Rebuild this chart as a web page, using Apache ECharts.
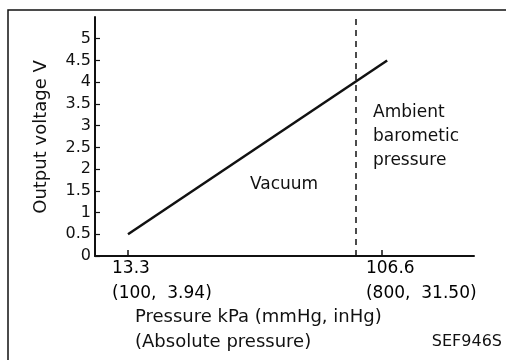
<!DOCTYPE html>
<html>
<head>
<meta charset="utf-8">
<script src="https://cdn.jsdelivr.net/npm/echarts@6/dist/echarts.min.js"></script>
<style>
  html, body { margin: 0; padding: 0; background: #fff; }
  #chart { width: 506px; height: 360px; }
</style>
</head>
<body>
<div id="chart"></div>
<script>
// Sensor characteristic: output voltage vs absolute pressure
const pressureKPa = [13.3, 108.5];
const outputVoltage = [0.5, 4.5];
const ambientPressureKPa = 97;

// Axis ticks
const xTickValues = [13.3, 106.6];
const xTickLabels = ['13.3', '106.6'];
const xTickSubLabels = ['(100,  3.94)', '(800,  31.50)'];
const yTickValues = [0, 0.5, 1, 1.5, 2, 2.5, 3, 3.5, 4, 4.5, 5];

const FONT = 'DejaVu Sans';
const INK = '#111';

const chart = echarts.init(document.getElementById('chart'), null, { renderer: 'canvas' });

const curve = pressureKPa.map((p, i) => [p, outputVoltage[i]]);
const tickLabelPoints = xTickValues.map(v => [v, 0]);

chart.setOption({
  animation: false,
  backgroundColor: '#fff',
  textStyle: { fontFamily: FONT, color: INK },
  grid: { left: 95, right: 32, top: 17, bottom: 104, containLabel: false },
  xAxis: {
    type: 'value',
    min: 1.18,
    max: 140.4,
    axisLine: { show: true, onZero: false, lineStyle: { color: INK, width: 2 } },
    axisTick: { show: true, inside: true, length: 6, customValues: xTickValues, lineStyle: { color: INK, width: 1.5 } },
    axisLabel: { show: false },
    splitLine: { show: false }
  },
  yAxis: {
    type: 'value',
    min: 0,
    max: 5.5,
    interval: 0.5,
    axisLine: { show: true, lineStyle: { color: INK, width: 2 } },
    axisTick: { show: true, inside: true, length: 5, customValues: yTickValues, lineStyle: { color: INK, width: 1.2 } },
    axisLabel: { show: true, customValues: yTickValues, fontSize: 16, margin: 4, color: INK, fontFamily: FONT },
    splitLine: { show: false }
  },
  series: [
    {
      type: 'line',
      data: curve,
      symbol: 'none',
      silent: true,
      lineStyle: { color: INK, width: 2.5 },
      markLine: {
        silent: true,
        symbol: 'none',
        label: { show: false },
        lineStyle: { color: INK, width: 1.5, type: [6, 5] },
        data: [{ xAxis: ambientPressureKPa }]
      }
    },
    {
      // two-line pressure labels under the x-axis ticks
      type: 'scatter',
      data: tickLabelPoints,
      symbolSize: 0,
      clip: false,
      silent: true,
      itemStyle: { color: '#000', opacity: 1 },
      label: {
        show: true,
        position: 'bottom',
        distance: 0,
        align: 'left',
        offset: [-16, 0],
        fontSize: 17,
        lineHeight: 25,
        color: '#000',
        opacity: 1,
        textBorderWidth: 0,
        fontFamily: FONT,
        formatter: p => xTickLabels[p.dataIndex] + '\n' + xTickSubLabels[p.dataIndex]
      }
    }
  ],
  graphic: [
    {
      type: 'polyline',
      shape: { points: [[8, 360], [8, 10], [506, 10]] },
      style: { stroke: INK, lineWidth: 1.5, fill: null }
    },
    {
      type: 'text',
      x: 41, y: 137, rotation: Math.PI / 2,
      style: { text: 'Output voltage V', fill: INK, fontSize: 18, fontFamily: FONT, align: 'center', verticalAlign: 'middle' }
    },
    {
      type: 'text',
      x: 135, y: 304.5,
      style: { text: 'Pressure kPa (mmHg, inHg)\n(Absolute pressure)', fill: INK, fontSize: 18, lineHeight: 25, fontFamily: FONT, align: 'left', verticalAlign: 'top' }
    },
    {
      type: 'text',
      x: 502, y: 342,
      style: { text: 'SEF946S', fill: INK, fontSize: 16, fontFamily: FONT, align: 'right', verticalAlign: 'middle' }
    },
    {
      type: 'text',
      x: 250, y: 185,
      style: { text: 'Vacuum', fill: INK, fontSize: 17, fontFamily: FONT, align: 'left', verticalAlign: 'middle' }
    },
    {
      type: 'text',
      x: 373, y: 101,
      style: { text: 'Ambient\nbarometic\npressure', fill: INK, fontSize: 17, lineHeight: 24, fontFamily: FONT, align: 'left', verticalAlign: 'top' }
    }
  ]
});
</script>
</body>
</html>
